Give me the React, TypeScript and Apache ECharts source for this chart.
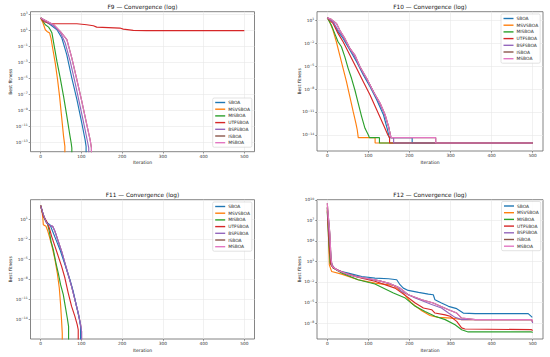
import React, { useEffect, useRef } from 'react';
import * as echarts from 'echarts';

const ALGOS = ['SBOA', 'MSVSBOA', 'MISBOA', 'UTFSBOA', 'BSFSBOA', 'ISBOA', 'MSBOA'];
const COLORS = ['#1f77b4', '#ff7f0e', '#2ca02c', '#d62728', '#9467bd', '#8c564b', '#e377c2'];
const TITLES = ['F9 \u2014 Convergence (log)', 'F10 \u2014 Convergence (log)', 'F11 \u2014 Convergence (log)', 'F12 \u2014 Convergence (log)'];
const X_TICKS = [0, 100, 200, 300, 400, 500];
const Y_TICKS_F9 = [3, 1, -1, -3, -5, -7, -9, -11, -13];
const Y_TICKS_F10 = [1, -2, -5, -8, -11, -14];
const Y_TICKS_F11 = [1, -2, -5, -8, -11, -14];
const Y_TICKS_F12 = [10, 7, 4, 1, -2, -5, -8];

// values are [iteration, log10(best fitness)]; ZERO marks a best fitness of exactly 0
const ZERO = -40;

const F9_SBOA = [[0, 2.6], [24, 1.75], [40, 1.12], [52, 0.08], [64, -2.01], [76.5, -4.94], [89, -7.65], [101, -10.58], [109, -12.66], [111.5, -13.5], [111.5, ZERO]];
const F9_MSVSBOA = [[0, 2.6], [5.7, 1.96], [11.4, 1.12], [15.5, 0.91], [22, 0.7], [25.2, 0.08], [30.1, -1.39], [35.8, -3.06], [41.5, -5.15], [46.4, -7.23], [51.3, -9.74], [56.2, -12.25], [59.4, -13.5], [60, ZERO]];
const F9_MISBOA = [[0, 2.6], [11.4, 1.75], [19.5, 1.45], [23.6, 1.12], [27.7, 0.7], [33.4, -0.97], [39.9, -2.85], [48, -4.94], [56.2, -7.23], [64.3, -9.74], [70.8, -11.83], [74.9, -13.08], [76.5, -13.7], [76.5, ZERO]];
const F9_UTFSBOA = [[0, 2.6], [7.3, 2.16], [23.6, 1.87], [88.8, 1.87], [113, 1.75], [129.5, 1.62], [137.6, 1.45], [194.6, 1.33], [202.8, 1.2], [227.2, 1.04], [259.8, 1.0], [500, 1.0]];
const F9_BSFSBOA = [[0, 2.6], [31.8, 1.62], [48, 0.79], [60.3, -0.55], [72.5, -2.85], [84.7, -5.56], [96.9, -8.49], [109, -11.4], [115.6, -13.08], [118, -13.7], [118, ZERO]];
const F9_ISBOA = [[0, 2.6], [31.8, 1.75], [48, 0.91], [64.3, -0.13], [76.5, -2.43], [88.8, -5.15], [101, -7.86], [113.2, -10.78], [121.3, -12.66], [124.6, -13.7], [125, ZERO]];
const F9_MSBOA = [[0, 2.6], [31.8, 1.75], [48, 0.91], [64.3, -0.13], [76.5, -2.43], [88.8, -5.15], [101, -7.86], [113.2, -10.78], [121.3, -12.66], [124.6, -13.7], [125, ZERO]];

const F10_SBOA = [[0, 1.3], [13.9, 0.78], [26.2, -0.52], [38.5, -1.39], [54.9, -2.91], [71.3, -4.43], [87.7, -6.17], [104.1, -7.7], [120.5, -9.43], [136.9, -11.39], [146.7, -13.35], [150.8, -14.35], [206.6, -14.35], [206.6, -15.05], [500, -15.05]];
const F10_MSVSBOA = [[0, 1.3], [5.7, 0.78], [13.9, -0.3], [22.1, -1.83], [30.3, -3.57], [38.5, -5.3], [46.7, -7.04], [54.9, -9], [63.1, -10.96], [69.7, -12.48], [73, -13.35], [75.4, -14.35], [116.4, -14.35], [116.4, -15.05], [500, -15.05]];
const F10_MISBOA = [[0, 1.3], [9.8, 0.35], [18, -0.74], [26.2, -1.83], [34.4, -2.48], [42.6, -3.78], [50.8, -5.3], [59, -6.6], [67.2, -8.13], [75.4, -9.87], [83.6, -11.6], [91.8, -13.13], [100, -14.0], [102.5, -14.35], [127, -14.35], [127, -15.05], [500, -15.05]];
const F10_UTFSBOA = [[0, 1.3], [13.9, 0.57], [26.2, -0.74], [38.5, -1.83], [54.9, -3.57], [71.3, -5.3], [87.7, -7.04], [104.1, -8.78], [120.5, -10.74], [136.9, -12.7], [147.5, -14.0], [151.6, -14.35], [151.6, -15.05], [500, -15.05]];
const F10_BSFSBOA = [[0, 1.3], [13.9, 0.78], [26.2, -0.3], [38.5, -1.17], [54.9, -2.7], [71.3, -4.22], [87.7, -5.96], [104.1, -7.48], [120.5, -9.22], [136.9, -10.96], [149.2, -12.91], [155, -14.35], [161.5, -14.35], [161.5, -15.05], [500, -15.05]];
const F10_ISBOA = [[0, 1.3], [9.8, 1.09], [22.1, 0.57], [30.3, -0.3], [42.6, -1.39], [54.9, -2.7], [67.2, -3.57], [79.5, -5.09], [95.9, -6.6], [112.3, -8.35], [128.7, -9.87], [141, -11.39], [149.2, -12.91], [155, -14.35], [263.9, -14.35], [263.9, -15.05], [500, -15.05]];
const F10_MSBOA = [[0, 1.3], [9.8, 1.09], [22.1, 0.57], [30.3, -0.3], [42.6, -1.39], [54.9, -2.7], [67.2, -3.57], [79.5, -5.09], [95.9, -6.6], [112.3, -8.35], [128.7, -9.87], [141, -11.39], [149.2, -12.91], [155, -14.35], [263.9, -14.35], [263.9, -15.05], [500, -15.05]];

const F11_SBOA = [[0, 2.99], [6.5, 1.4], [14.7, 0.5], [22.8, 0.16], [31, -1.09], [39.2, -2.33], [47.3, -3.57], [55.5, -5.06], [63.6, -6.55], [71.8, -8.04], [79.9, -9.78], [88.1, -12.02], [94.6, -13.75], [97.9, -15], [98, ZERO]];
const F11_MSVSBOA = [[0, 2.99], [3.3, 2.14], [4.9, 1.4], [6.5, 0.16], [13, -0.09], [16.3, -0.59], [21.2, -1.58], [26.9, -2.83], [35.1, -5.06], [40.8, -7.05], [45.7, -9.28], [48.9, -11.77], [51.4, -14.25], [53, -16], [53, ZERO]];
const F11_MISBOA = [[0, 2.99], [4.9, 1.89], [10.6, 0.9], [16.3, 0.4], [21.2, -0.84], [25.3, -2.33], [31, -3.57], [37.5, -5.56], [43.2, -7.05], [48.9, -8.79], [55.5, -10.28], [60.4, -12.02], [65.3, -13.75], [68.5, -15], [68.5, ZERO]];
const F11_UTFSBOA = [[0, 2.99], [6.5, 1.4], [14.7, 0.65], [21.2, -0.34], [26.9, -1.58], [35.1, -3.07], [43.2, -4.56], [51.4, -6.05], [59.5, -7.79], [67.7, -10.03], [75.9, -12.02], [84, -13.51], [89.7, -14.75], [92.2, -15.5], [92.2, ZERO]];
const F11_BSFSBOA = [[0, 2.99], [6.5, 1.65], [14.7, 0.4], [22.8, 0.01], [29.4, -0.09], [35.1, -0.84], [43.2, -2.33], [51.4, -3.82], [59.5, -5.56], [67.7, -7.3], [75.9, -9.03], [84, -11.02], [92.2, -13.01], [97.9, -14.75], [100.3, -15.74], [100.3, ZERO]];
const F11_ISBOA = [[0, 2.99], [6.5, 1.65], [14.7, 0.4], [22.8, 0.01], [29.4, -0.09], [35.1, -0.84], [43.2, -2.33], [51.4, -3.82], [59.5, -5.56], [67.7, -7.3], [75.9, -9.03], [84, -11.02], [92.2, -13.01], [97.9, -14.75], [100.3, -15.74], [100.3, ZERO]];
const F11_MSBOA = [[0, 2.99], [6.5, 1.65], [14.7, 0.4], [22.8, 0.01], [29.4, -0.09], [35.1, -0.84], [43.2, -2.33], [51.4, -3.82], [59.5, -5.56], [67.7, -7.3], [75.9, -9.03], [84, -11.02], [92.2, -13.01], [97.9, -14.75], [100.3, -15.74], [100.3, ZERO]];

const F12_SBOA = [[0, 8.8], [5, 5.9], [9, 1.0], [15, 0.03], [27, -0.36], [51, -0.7], [84, -1.2], [116, -1.43], [149, -1.53], [169, -1.67], [177, -2.4], [185, -2.9], [197, -3.23], [222, -3.52], [246, -3.77], [258, -3.86], [262, -4.6], [278, -5.08], [295, -5.56], [315, -5.9], [331, -6.54], [360, -6.63], [489, -6.63], [499, -7.17]];
const F12_MSVSBOA = [[0, 9.0], [2.4, 5.9], [5, 0.5], [10.5, -0.46], [35, -0.85], [75, -1.67], [116, -2.16], [161, -2.5], [169, -2.9], [185, -3.6], [205, -5.08], [230, -6.2], [250, -6.9], [270, -7.17], [303, -7.27], [327, -7.5], [360, -7.5], [497, -7.5], [500, -7.85]];
const F12_MISBOA = [[0, 8.3], [4, 3.4], [7, 0.76], [15, 0.03], [35, -0.7], [75, -1.67], [116, -2.3], [161, -3.6], [190, -4.35], [214, -5.56], [238, -6.3], [262, -7.0], [287, -7.5], [311, -8.24], [327, -8.97], [343, -9.3], [497, -9.3], [500, -9.36]];
const F12_UTFSBOA = [[0, 8.5], [4.9, 3.4], [9, 0.5], [15, 0.03], [42, -0.7], [84, -1.43], [116, -1.9], [165, -2.9], [193, -4.1], [214, -5.08], [234, -5.8], [254, -6.05], [262, -6.54], [287, -6.8], [299, -7.0], [315, -7.75], [327, -8.7], [335, -8.87], [497, -8.97], [500, -9.1]];
const F12_BSFSBOA = [[0, 9.0], [4.9, 4.9], [10.5, 0.6], [19, -0.07], [51, -0.94], [92, -1.43], [132, -1.9], [169, -2.65], [181, -3.4], [214, -4.35], [254, -5.3], [278, -5.8], [295, -6.54], [311, -7.17], [327, -7.5], [497, -7.5], [500, -8.0]];
const F12_ISBOA = [[0, 9.5], [3, 7.3], [6.5, 4.9], [9, 1.5], [12, 0.27], [27, -0.36], [67, -1.2], [116, -1.67], [149, -2.16], [177, -2.9], [197, -3.86], [230, -4.6], [258, -5.08], [295, -6.05], [315, -6.54], [327, -7.27], [360, -7.5], [497, -7.5], [500, -7.75]];
const F12_MSBOA = [[0, 9.5], [3, 7.3], [6.5, 4.9], [9, 1.5], [12, 0.27], [27, -0.36], [67, -1.2], [116, -1.67], [149, -2.16], [177, -2.9], [197, -3.86], [230, -4.6], [258, -5.08], [295, -6.05], [315, -6.54], [327, -7.27], [360, -7.5], [497, -7.5], [500, -7.75]];

const PANEL_DATA = [
  [F9_SBOA, F9_MSVSBOA, F9_MISBOA, F9_UTFSBOA, F9_BSFSBOA, F9_ISBOA, F9_MSBOA],
  [F10_SBOA, F10_MSVSBOA, F10_MISBOA, F10_UTFSBOA, F10_BSFSBOA, F10_ISBOA, F10_MSBOA],
  [F11_SBOA, F11_MSVSBOA, F11_MISBOA, F11_UTFSBOA, F11_BSFSBOA, F11_ISBOA, F11_MSBOA],
  [F12_SBOA, F12_MSVSBOA, F12_MISBOA, F12_UTFSBOA, F12_BSFSBOA, F12_ISBOA, F12_MSBOA],
];
const PANEL_YTICKS = [Y_TICKS_F9, Y_TICKS_F10, Y_TICKS_F11, Y_TICKS_F12];
const PANEL_YRANGE = [[-14.17, 3.38], [-16.09, 2.09], [-16.88, 3.88], [-10.33, 10.02]];

const GRIDS = [
  { left: 30.5, top: 11.7, width: 224, height: 140 },
  { left: 317, top: 11.7, width: 226, height: 139.3 },
  { left: 30.5, top: 199.7, width: 224, height: 139.3 },
  { left: 317, top: 199.7, width: 226, height: 139.3 },
];
const LEGEND_POS = [
  { left: 212.7, top: 98 },
  { left: 501, top: 14 },
  { left: 212.7, top: 202 },
  { left: 501.5, top: 201.5 },
];

const FONT = 'DejaVu Sans';
const supLabel = (v: number) => {
  const e = Math.round(v);
  return `{b|10}{s|${e < 0 ? '\u2212' + Math.abs(e) : e}}`;
};

export default function App() {
  const ref = useRef<HTMLDivElement>(null);
  useEffect(() => {
    if (!ref.current) return;
    const chart = echarts.init(ref.current, null, { renderer: 'svg' });
    const series: any[] = [];
    PANEL_DATA.forEach((arrs, p) => {
      arrs.forEach((d, k) => {
        const hiddenUnder = p === 2 && (k === 5 || k === 6);
        series.push({
          type: 'line',
          name: ALGOS[k],
          xAxisIndex: p,
          yAxisIndex: p,
          data: d,
          symbol: 'none',
          showSymbol: false,
          clip: true,
          z: hiddenUnder ? 1 : 2,
          lineStyle: { width: 1.15, color: COLORS[k] },
          itemStyle: { color: COLORS[k] },
        });
      });
    });
    const graphics: any[] = [];
    GRIDS.forEach((g, p) => {
      const cx = g.left + g.width / 2;
      graphics.push({
        type: 'text',
        style: { text: TITLES[p], x: cx, y: g.top - 5, align: 'center', verticalAlign: 'middle', font: `5.8px "${FONT}"`, fill: '#111' },
      });
      graphics.push({
        type: 'text',
        style: { text: 'Iteration', x: cx, y: g.top + g.height + 11, align: 'center', verticalAlign: 'middle', font: `4.5px "${FONT}"`, fill: '#222' },
      });
      graphics.push({
        type: 'text',
        x: p % 2 === 0 ? 10 : 299,
        y: g.top + g.height / 2,
        rotation: Math.PI / 2,
        style: { text: 'Best fitness', x: 0, y: 0, align: 'center', verticalAlign: 'middle', font: `4.5px "${FONT}"`, fill: '#222' },
      });
    });
    chart.setOption({
      animation: false,
      backgroundColor: '#fff',
      grid: GRIDS.map((g) => ({ ...g, show: true, borderColor: '#666', borderWidth: 0.8, containLabel: false })),
      xAxis: GRIDS.map((_, p) => ({
        type: 'value',
        gridIndex: p,
        min: -25,
        max: 525,
        axisLine: { show: false, onZero: false },
        axisTick: { show: true, length: 1.8, inside: false, customValues: X_TICKS, lineStyle: { color: '#555', width: 0.6 } },
        axisLabel: { customValues: X_TICKS, fontSize: 4.3, fontFamily: FONT, color: '#333', margin: 2.8 },
        splitLine: { show: true, lineStyle: { color: '#e8e8e8', width: 0.6 } },
      })),
      yAxis: GRIDS.map((_, p) => ({
        type: 'value',
        gridIndex: p,
        min: PANEL_YRANGE[p][0],
        max: PANEL_YRANGE[p][1],
        axisLine: { show: false, onZero: false },
        axisTick: { show: true, length: 1.8, customValues: PANEL_YTICKS[p], lineStyle: { color: '#555', width: 0.6 } },
        axisLabel: {
          customValues: PANEL_YTICKS[p],
          formatter: (v: number) => supLabel(v),
          margin: 2.8,
          color: '#333',
          fontFamily: FONT,
          rich: {
            b: { fontSize: 4.3, fontFamily: FONT, color: '#333' },
            s: { fontSize: 3.1, fontFamily: FONT, color: '#333', padding: [0, 0, 3, 0] },
          },
        },
        splitLine: { show: true, lineStyle: { color: '#e8e8e8', width: 0.6 } },
      })),
      legend: LEGEND_POS.map((pos) => ({
        ...pos,
        orient: 'vertical',
        data: ALGOS,
        icon: 'rect',
        itemWidth: 10,
        itemHeight: 1.4,
        itemGap: 1.7,
        padding: [2, 2, 2, 2.5],
        backgroundColor: 'rgba(255,255,255,0.85)',
        borderColor: '#d0d0d0',
        borderWidth: 0.6,
        borderRadius: 1.5,
        selectedMode: false,
        textStyle: { fontSize: 4.4, fontFamily: FONT, color: '#222', lineHeight: 5, padding: [0, 0, 0, -2] },
      })),
      graphic: graphics,
      series,
    });
    return () => chart.dispose();
  }, []);
  return <div ref={ref} style={{ position: 'fixed', left: 0, top: 0, width: 550, height: 357, background: '#fff' }} />;
}
